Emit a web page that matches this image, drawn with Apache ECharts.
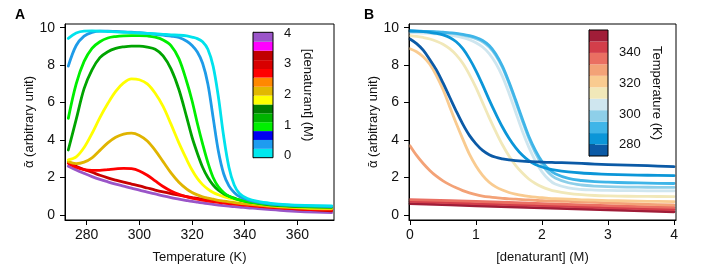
<!DOCTYPE html>
<html><head><meta charset="utf-8">
<script src="https://cdn.jsdelivr.net/npm/echarts@6/dist/echarts.min.js"></script>
<style>html,body{margin:0;padding:0;background:#fff}#c{width:715px;height:273px}</style>
</head><body><div id="c"></div>
<script>
// ---------- Panel A: alpha vs temperature, one curve per denaturant level ----------
const tempK = [273,276,279,282,285,288,291,294,297,300,303,306,309,312,315,318,320,322,324,326,328,330,332,334,336,338,341,345,350,356,363,373];
const aCyan   = [9.43,9.72,9.82,9.83,9.82,9.80,9.78,9.76,9.74,9.72,9.70,9.68,9.65,9.62,9.60,9.56,9.50,9.42,9.25,8.85,7.95,6.30,4.20,2.55,1.60,1.15,0.88,0.72,0.62,0.55,0.51,0.48];
const aDodger = [7.95,9.05,9.55,9.75,9.82,9.82,9.80,9.78,9.76,9.74,9.70,9.65,9.60,9.55,9.48,9.28,9.05,8.70,8.10,7.00,5.20,3.40,2.20,1.55,1.20,0.98,0.82,0.68,0.58,0.52,0.48,0.45];
const aLime   = [5.16,7.00,8.20,8.90,9.25,9.45,9.53,9.57,9.58,9.58,9.56,9.50,9.35,9.05,8.35,7.10,6.10,4.90,3.80,2.80,2.00,1.50,1.20,1.00,0.88,0.80,0.72,0.63,0.56,0.50,0.46,0.43];
const aGreen  = [3.47,5.10,6.75,7.75,8.40,8.72,8.90,8.98,9.02,9.02,8.97,8.85,8.50,7.80,6.70,5.20,4.15,3.30,2.55,2.00,1.60,1.32,1.13,1.00,0.90,0.80,0.70,0.62,0.53,0.47,0.43,0.40];
const aYellow = [2.94,3.10,3.60,4.35,5.20,5.95,6.60,7.05,7.27,7.22,7.00,6.50,5.80,4.85,3.85,2.95,2.40,1.95,1.62,1.38,1.20,1.08,0.98,0.90,0.84,0.78,0.70,0.60,0.51,0.44,0.39,0.36];
const aGold   = [2.85,2.74,2.82,3.05,3.45,3.85,4.15,4.32,4.37,4.25,3.95,3.45,2.85,2.25,1.75,1.38,1.20,1.07,0.97,0.90,0.84,0.78,0.74,0.70,0.66,0.62,0.58,0.53,0.46,0.40,0.35,0.32];
const aRed    = [2.76,2.55,2.42,2.38,2.38,2.42,2.46,2.49,2.47,2.35,2.12,1.82,1.52,1.28,1.10,0.97,0.90,0.84,0.79,0.75,0.71,0.67,0.64,0.61,0.58,0.55,0.51,0.46,0.40,0.35,0.30,0.27];
const aDarkRed= [2.78,2.60,2.43,2.28,2.12,1.98,1.86,1.75,1.65,1.55,1.44,1.33,1.23,1.14,1.06,0.98,0.93,0.88,0.84,0.80,0.76,0.72,0.69,0.66,0.63,0.60,0.56,0.50,0.43,0.36,0.30,0.22];
const aPurple = [2.60,2.40,2.22,2.05,1.90,1.77,1.65,1.54,1.43,1.33,1.22,1.12,1.02,0.93,0.85,0.77,0.72,0.68,0.64,0.60,0.56,0.53,0.50,0.47,0.44,0.42,0.38,0.34,0.28,0.22,0.17,0.12];
const aTickT = [280,300,320,340,360];
const alphaTicks = [0,2,4,6,8,10];

// colour bar A: [denaturant] (M)
const denatEdges  = [-0.07,0.22,0.51,0.80,1.09,1.38,1.67,1.96,2.25,2.55,2.83,3.12,3.43,3.72,4.03];
const denatColors = ['#00e8ee','#1e9cf0','#0000f0','#00f000','#00b400','#007e00','#ffff00','#e2b800','#ff8800','#ff0000','#d80000','#c00000','#ff00ff','#9b55c9'];
const denatTicks  = [0,1,2,3,4];

// ---------- Panel B: alpha vs denaturant, one curve per temperature ----------
const denatM = [0,0.1,0.2,0.3,0.4,0.5,0.6,0.7,0.8,0.9,1.0,1.1,1.2,1.3,1.4,1.5,1.6,1.7,1.8,1.9,2.0,2.1,2.2,2.4,2.6,2.8,3.0,3.3,3.6,4.0];
const bDarkBlue = [9.40,9.15,8.80,8.30,7.75,7.05,6.30,5.55,4.85,4.25,3.80,3.45,3.22,3.08,3.00,2.94,2.90,2.87,2.85,2.84,2.82,2.81,2.80,2.78,2.75,2.72,2.69,2.66,2.63,2.58];
const bBlue     = [9.84,9.82,9.79,9.75,9.70,9.62,9.48,9.25,8.88,8.35,7.70,6.95,6.15,5.40,4.70,4.10,3.60,3.20,2.90,2.70,2.56,2.46,2.39,2.30,2.24,2.20,2.17,2.14,2.12,2.10];
const bSky      = [9.82,9.82,9.81,9.80,9.78,9.76,9.73,9.70,9.65,9.58,9.48,9.32,9.05,8.60,7.95,7.10,6.15,5.15,4.20,3.45,2.85,2.45,2.20,1.95,1.84,1.78,1.75,1.72,1.70,1.68];
const bLight    = [9.80,9.80,9.79,9.78,9.76,9.74,9.71,9.67,9.61,9.53,9.42,9.25,8.97,8.52,7.88,7.02,6.05,5.05,4.10,3.32,2.70,2.25,1.97,1.72,1.60,1.54,1.51,1.49,1.48,1.47];
const bPale     = [9.74,9.73,9.72,9.70,9.68,9.65,9.61,9.55,9.47,9.36,9.20,8.97,8.62,8.10,7.40,6.50,5.50,4.50,3.62,2.88,2.30,1.90,1.65,1.44,1.36,1.33,1.31,1.30,1.29,1.29];
const bYellow   = [9.58,9.54,9.48,9.40,9.28,9.12,8.88,8.55,8.10,7.50,6.80,6.00,5.20,4.45,3.75,3.15,2.65,2.25,1.92,1.68,1.50,1.37,1.27,1.15,1.08,1.04,1.02,1.00,0.99,0.98];
const bPeach    = [8.88,8.72,8.45,8.05,7.45,6.70,5.80,4.90,4.05,3.25,2.62,2.12,1.75,1.50,1.33,1.20,1.11,1.04,0.99,0.95,0.92,0.89,0.87,0.84,0.81,0.79,0.77,0.75,0.73,0.71];
const bLtSalmon = [3.70,3.18,2.75,2.38,2.07,1.82,1.62,1.45,1.30,1.18,1.08,1.01,0.96,0.92,0.89,0.86,0.84,0.82,0.80,0.78,0.76,0.75,0.74,0.72,0.69,0.67,0.64,0.60,0.57,0.53];
const denatCoarse = [0,1,2,3,4];
const bSalmon   = [0.82,0.72,0.61,0.50,0.40];
const bRed      = [0.72,0.61,0.50,0.39,0.29];
const bDarkRed  = [0.60,0.49,0.38,0.27,0.17];
const bTickM = [0,1,2,3,4];

// colour bar B: Temperature (K)
const tempEdges  = [272.5,280,287.5,295,302.5,310,317.5,325,332.5,340,347.5,355];
const tempColors = ['#0b5aa6','#0b96d8','#3fb5e8','#8ecfe9','#cfe6ef','#f1e8b9','#f9cb90','#f3a277','#ea6f62','#d33e4a','#a01d38'];
const tempTicks  = [280,300,320,340];

const FONT = 'Liberation Sans, Arial, Helvetica, sans-serif';
const TXT = '#111';
const pairs = (xs, ys) => xs.map((x, i) => [x, ys[i]]);

function line(xi, yi, xs, ys, color, w) {
  return { type: 'line', xAxisIndex: xi, yAxisIndex: yi, data: pairs(xs, ys), showSymbol: false,
    smooth: 0.35, lineStyle: { color: color, width: w || 2.8, cap: 'round', join: 'round' }, itemStyle: { color: color },
    silent: true, animation: false, z: 3 };
}
function bar(xi, yi, edges, colors) {
  return { type: 'custom', xAxisIndex: xi, yAxisIndex: yi, silent: true, animation: false, z: 2,
    data: edges.slice(0, -1).map((e, i) => [e, edges[i + 1]]),
    renderItem: function (params, api) {
      const p0 = api.coord([0, api.value(0)]);
      const p1 = api.coord([1, api.value(1)]);
      return { type: 'rect', shape: { x: p0[0], y: p1[1], width: p1[0] - p0[0], height: p0[1] - p1[1] },
        style: { fill: colors[params.dataIndex] } };
    } };
}
function mainX(grid, min, max, ticks, name) {
  return { gridIndex: grid, type: 'value', min: min, max: max,
    axisLine: { show: true, onZero: false, lineStyle: { color: '#000', width: 1 } },
    axisTick: { show: true, length: 5, customValues: ticks, lineStyle: { color: '#000' } },
    axisLabel: { customValues: ticks, color: TXT, fontSize: 14, fontFamily: FONT, margin: 8 },
    splitLine: { show: false },
    name: name, nameLocation: 'middle', nameGap: 31, nameTextStyle: { color: TXT, fontSize: 13, fontFamily: FONT } };
}
function mainY(grid) {
  return { gridIndex: grid, type: 'value', min: -0.27, max: 10.2,
    axisLine: { show: true, onZero: false, lineStyle: { color: '#000', width: 1 } },
    axisTick: { show: true, length: 5, customValues: alphaTicks, lineStyle: { color: '#000' } },
    axisLabel: { customValues: alphaTicks, color: TXT, fontSize: 14, fontFamily: FONT, margin: 10 },
    splitLine: { show: false },
    name: 'ᾱ (arbitrary unit)', nameLocation: 'middle', nameGap: 29,
    nameTextStyle: { color: TXT, fontSize: 13, fontFamily: FONT } };
}
function barX(grid) {
  return { gridIndex: grid, type: 'value', min: 0, max: 1, show: false };
}
function barY(grid, min, max, ticks, name, gap) {
  return { gridIndex: grid, type: 'value', min: min, max: max, position: 'right',
    axisLine: { show: true, lineStyle: { color: '#000' } },
    axisTick: { show: true, length: 6, customValues: ticks, lineStyle: { color: '#000' } },
    axisLabel: { customValues: ticks, color: TXT, fontSize: 13, fontFamily: FONT, margin: 11 },
    splitLine: { show: false },
    name: name, nameLocation: 'middle', nameRotate: -90, nameGap: gap,
    nameTextStyle: { color: TXT, fontSize: 13, fontFamily: FONT } };
}

const chart = echarts.init(document.getElementById('c'), null, { renderer: 'canvas' });
chart.setOption({
  animation: false,
  backgroundColor: '#fff',
  grid: [
    { left: 65, top: 24, width: 269, height: 196, show: true, borderColor: '#000', borderWidth: 1, z: 5, backgroundColor: 'transparent' },
    { left: 253, top: 32.3, width: 20, height: 125.4, show: true, borderColor: '#000', borderWidth: 1, z: 5, backgroundColor: 'transparent' },
    { left: 409, top: 24, width: 267, height: 196, show: true, borderColor: '#000', borderWidth: 1, z: 5, backgroundColor: 'transparent' },
    { left: 589, top: 30, width: 19, height: 126, show: true, borderColor: '#000', borderWidth: 1, z: 5, backgroundColor: 'transparent' }
  ],
  xAxis: [
    mainX(0, 271.75, 373.9, aTickT, 'Temperature (K)'),
    barX(1),
    mainX(2, -0.015, 4.03, bTickM, '[denaturant] (M)'),
    barX(3)
  ],
  yAxis: [
    mainY(0),
    barY(1, -0.07, 4.03, denatTicks, '[denaturant] (M)', 28),
    mainY(2),
    barY(3, 272.5, 355, tempTicks, 'Temperature (K)', 42)
  ],
  graphic: [
    { type: 'text', left: 15, top: 8, style: { text: 'A', font: 'bold 14px ' + FONT, fill: '#000' } },
    { type: 'text', left: 364, top: 8, style: { text: 'B', font: 'bold 14px ' + FONT, fill: '#000' } }
  ],
  series: [
    line(0, 0, tempK, aPurple, '#9a55c8'),
    line(0, 0, tempK, aDarkRed, '#c80000'),
    line(0, 0, tempK, aRed, '#ff0000'),
    line(0, 0, tempK, aGold, '#e0b400'),
    line(0, 0, tempK, aYellow, '#ffff00'),
    line(0, 0, tempK, aGreen, '#00a400'),
    line(0, 0, tempK, aLime, '#00ee00'),
    line(0, 0, tempK, aDodger, '#1e9be8'),
    line(0, 0, tempK, aCyan, '#00e2ec'),
    bar(1, 1, denatEdges, denatColors),
    line(2, 2, denatCoarse, bDarkRed, '#a01d38'),
    line(2, 2, denatCoarse, bRed, '#d33e4a'),
    line(2, 2, denatCoarse, bSalmon, '#ea6f62'),
    line(2, 2, denatM, bLtSalmon, '#f3a277'),
    line(2, 2, denatM, bPeach, '#f9cb90'),
    line(2, 2, denatM, bYellow, '#f1e8b9'),
    line(2, 2, denatM, bPale, '#cfe6ef'),
    line(2, 2, denatM, bLight, '#8ecfe9'),
    line(2, 2, denatM, bSky, '#3fb5e8'),
    line(2, 2, denatM, bBlue, '#0b96d8'),
    line(2, 2, denatM, bDarkBlue, '#0b5aa6'),
    bar(3, 3, tempEdges, tempColors)
  ]
});
</script>
</body></html>
